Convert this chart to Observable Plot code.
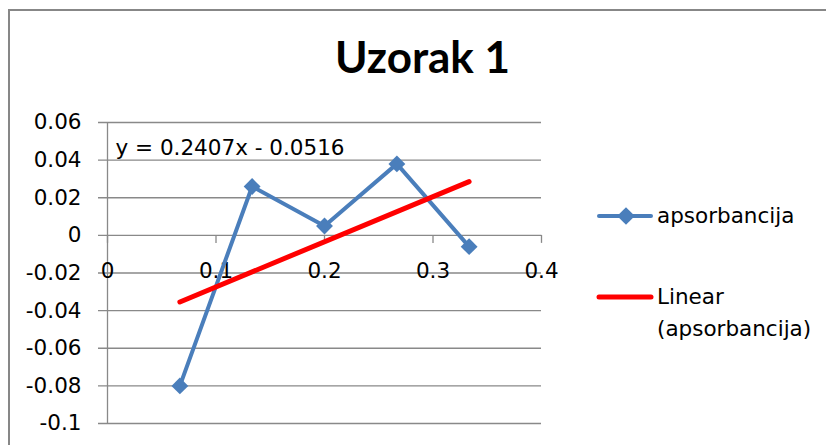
<!DOCTYPE html>
<html>
<head>
<meta charset="utf-8">
<script src="https://cdn.jsdelivr.net/npm/d3@7"></script>
<script src="https://cdn.jsdelivr.net/npm/@observablehq/plot@0.6"></script>
<style>
  html, body { margin: 0; padding: 0; background: #fff; }
  #wrap { position: relative; width: 826px; height: 445px; overflow: hidden; font-family: "DejaVu Sans", sans-serif; }
  #border { position: absolute; left: 8px; top: 9px; right: -10px; bottom: -10px; border-top: 2px solid #878787; border-left: 2px solid #878787; }
  #title { position: absolute; left: 0; width: 845px; top: 30px; text-align: center; font-family: Lato, sans-serif; font-weight: bold; font-size: 44px; line-height: 52px; color: #000; }
  #chart { position: absolute; left: 0; top: 0; }
  .leg { position: absolute; font-size: 21.5px; line-height: 32px; color: #000; }
  .leg svg { position: absolute; left: 0; }
</style>
</head>
<body>
<div id="wrap">
  <div id="border"></div>
  <div id="chart"></div>
  <div id="title"></div>
  <div id="legend"></div>
</div>
<script>
const chartTitle = "Uzorak 1";
const seriesName = "apsorbancija";
const trendNameLines = ["Linear", "(apsorbancija)"];
const equationLabel = "y = 0.2407x - 0.0516";
const xValues = [0.0667, 0.1333, 0.2, 0.2667, 0.3333];
const yValues = [-0.08, 0.026, 0.005, 0.038, -0.006];
const xTicks = [0, 0.1, 0.2, 0.3, 0.4];
const yTicks = [-0.1, -0.08, -0.06, -0.04, -0.02, 0, 0.02, 0.04, 0.06];

const blue = "#4a7ebb";
const red = "#ff0000";
const grid = "#898989";
const fs = 21.5;

const data = xValues.map((x, i) => ({x, y: yValues[i]}));
const fmt = d => String(+d.toFixed(2));
const diamond = d3.symbolDiamond2 || "diamond";

const plot = Plot.plot({
  width: 826,
  height: 445,
  marginLeft: 107,
  marginRight: 285,
  marginTop: 122,
  marginBottom: 22,
  style: {fontFamily: "DejaVu Sans, sans-serif", fontSize: fs + "px", background: "transparent", color: "#000"},
  x: {domain: [0, 0.4], axis: null},
  y: {domain: [-0.1, 0.06], axis: null},
  marks: [
    Plot.ruleY(yTicks, {y: d => d, stroke: grid, strokeWidth: 1.3, insetLeft: -9}),
    Plot.ruleX([0], {x: d => d, stroke: grid, strokeWidth: 1.3}),
    Plot.ruleX(xTicks, {x: d => d, y1: () => 0, y2: () => 0, insetBottom: -8, stroke: grid, strokeWidth: 1.3}),
    Plot.axisY(yTicks, {anchor: "left", tickSize: 0, tickPadding: 26, tickFormat: fmt, label: null, fontSize: fs}),
    Plot.text(xTicks, {x: d => d, y: () => 0, text: fmt, dy: 36, fontSize: fs, fill: "#000"}),
    Plot.text([equationLabel], {text: d => d, frameAnchor: "top-left", textAnchor: "start", lineAnchor: "middle", dx: 8, dy: 26, fontSize: fs, fill: "#000"}),
    Plot.line(data, {x: "x", y: "y", stroke: blue, strokeWidth: 4, strokeLinejoin: "round"}),
    Plot.dot(data, {x: "x", y: "y", symbol: diamond, r: 7.6, fill: blue, stroke: "none"}),
    Plot.linearRegressionY(data, {x: "x", y: "y", stroke: red, strokeWidth: 5, ci: 0, strokeLinecap: "round"})
  ]
});
document.getElementById("chart").appendChild(plot);
document.getElementById("title").textContent = chartTitle;

// legend
const legend = document.getElementById("legend");
function addEntry(top, lines, kind) {
  const div = document.createElement("div");
  div.className = "leg";
  div.style.left = "596px";
  div.style.top = top + "px";
  const svg = d3.create("svg").attr("width", 60).attr("height", 32).style("top", "0px");
  if (kind === "series") {
    svg.append("line").attr("x1", 3).attr("x2", 55).attr("y1", 16).attr("y2", 16)
      .attr("stroke", blue).attr("stroke-width", 4).attr("stroke-linecap", "round");
    svg.append("path").attr("d", d3.symbol(d3.symbolDiamond2 || d3.symbolDiamond, 200)())
      .attr("transform", "translate(30,16)").attr("fill", blue);
  } else {
    svg.append("line").attr("x1", 3).attr("x2", 55).attr("y1", 16).attr("y2", 16)
      .attr("stroke", red).attr("stroke-width", 5).attr("stroke-linecap", "round");
  }
  div.appendChild(svg.node());
  const txt = document.createElement("div");
  txt.style.marginLeft = "61px";
  txt.style.whiteSpace = "nowrap";
  txt.innerHTML = lines.map(l => l.replace(/&/g, "&amp;").replace(/</g, "&lt;")).join("<br>");
  div.appendChild(txt);
  legend.appendChild(div);
}
addEntry(200, [seriesName], "series");
addEntry(281, trendNameLines, "trend");
</script>
</body>
</html>
